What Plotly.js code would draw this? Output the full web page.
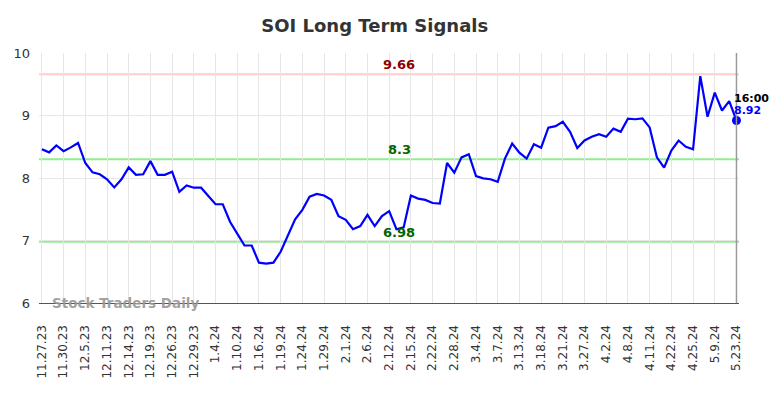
<!DOCTYPE html>
<html>
<head>
<meta charset="utf-8">
<script src="https://cdn.plot.ly/plotly-3.0.1.min.js"></script>
<style>html,body{margin:0;padding:0;background:#fff}#chart{width:784px;height:398px}</style>
</head>
<body>
<div id="chart"></div>
<script>
const dates = ["11.27.23","11.28.23","11.29.23","11.30.23","12.1.23","12.4.23","12.5.23","12.6.23","12.8.23","12.11.23",
"12.12.23","12.13.23","12.14.23","12.15.23","12.18.23","12.19.23","12.20.23","12.22.23","12.26.23","12.27.23",
"12.28.23","12.29.23","1.2.24","1.3.24","1.4.24","1.8.24","1.9.24","1.10.24","1.11.24","1.12.24",
"1.16.24","1.17.24","1.18.24","1.19.24","1.22.24","1.23.24","1.24.24","1.25.24","1.26.24","1.29.24",
"1.30.24","1.31.24","2.1.24","2.2.24","2.5.24","2.6.24","2.7.24","2.9.24","2.12.24","2.13.24",
"2.14.24","2.15.24","2.20.24","2.21.24","2.22.24","2.26.24","2.27.24","2.28.24","2.29.24","3.1.24",
"3.4.24","3.5.24","3.6.24","3.7.24","3.11.24","3.12.24","3.13.24","3.14.24","3.15.24","3.18.24",
"3.19.24","3.20.24","3.21.24","3.22.24","3.26.24","3.27.24","3.28.24","4.1.24","4.2.24","4.3.24",
"4.5.24","4.8.24","4.9.24","4.10.24","4.11.24","4.16.24","4.19.24","4.22.24","4.23.24","4.24.24",
"4.25.24","5.1.24","5.6.24","5.9.24","5.14.24","5.20.24","5.23.24"];
const values = [8.46,8.41,8.52,8.43,8.49,8.56,8.24,8.09,8.06,7.98,
7.85,7.98,8.17,8.05,8.06,8.27,8.05,8.05,8.10,7.78,
7.88,7.845,7.845,7.72,7.58,7.58,7.30,7.11,6.92,6.92,
6.645,6.63,6.645,6.82,7.09,7.34,7.49,7.70,7.744,7.72,
7.65,7.39,7.33,7.18,7.23,7.41,7.23,7.39,7.47,7.18,
7.21,7.72,7.67,7.65,7.60,7.59,8.24,8.085,8.33,8.38,
8.03,7.995,7.98,7.94,8.31,8.55,8.405,8.31,8.54,8.485,
8.805,8.83,8.90,8.74,8.48,8.60,8.66,8.70,8.66,8.79,
8.74,8.95,8.94,8.955,8.81,8.33,8.165,8.44,8.60,8.50,
8.46,9.63,8.98,9.365,9.08,9.23,8.92];
const tickLabels = dates.filter((d,i)=>i%3===0);
const resistance = 9.66;
const support1 = 8.3;
const support2 = 6.98;
const lastTime = "16:00";
const lastValue = 8.92;

const lastDate = dates[dates.length-1];
const F = "DejaVu Sans, sans-serif";

const traces = [
  {x: dates, y: values, type: "scatter", mode: "lines",
   line: {color: "#0000ff", width: 2.2}, hoverinfo: "skip"},
  {x: [lastDate], y: [lastValue], type: "scatter", mode: "markers", cliponaxis: false,
   marker: {color: "#0000ff", size: 9}, hoverinfo: "skip"}
];

const hline = (y, color) => ({type: "line", xref: "paper", x0: 0, x1: 1, yref: "y", y0: y, y1: y,
  line: {color: color, width: 2}, layer: "below"});

const layout = {
  width: 784, height: 398,
  margin: {l: 39, r: 45, t: 53, b: 95},
  paper_bgcolor: "#fff", plot_bgcolor: "#fff",
  showlegend: false,
  font: {family: F, color: "#333", size: 12},
  title: {text: "<b>SOI Long Term Signals</b>", font: {family: F, size: 18, color: "#333"},
          x: 0.478, xanchor: "center", y: 0.935, yanchor: "middle"},
  xaxis: {type: "category", range: [-0.4, 96.35], tickmode: "array", tickvals: tickLabels, ticktext: tickLabels,
          tickangle: -90, showgrid: true, gridcolor: "#e6e6e6", gridwidth: 1,
          showline: true, linecolor: "#555", linewidth: 1.3, ticks: "", zeroline: false,
          ticklabelstandoff: 16,
          tickfont: {family: F, size: 12, color: "#333"}},
  yaxis: {range: [6, 10], tickvals: [6,7,8,9,10], showgrid: true, gridcolor: "#e6e6e6", gridwidth: 1,
          zeroline: false, showline: false, ticks: "", ticklen: 0, ticklabelstandoff: 8,
          tickfont: {family: F, size: 13, color: "#333"}},
  shapes: [
    hline(resistance, "#ffcccc"),
    hline(support1, "#90ee90"),
    hline(support2, "#90ee90"),
    {type: "line", xref: "x", x0: lastDate, x1: lastDate, yref: "paper", y0: 0, y1: 1,
     line: {color: "#999", width: 1.5}}
  ],
  annotations: [
    {x: 49.4, xref: "x", y: resistance, yref: "y", text: "<b>" + resistance + "</b>", showarrow: false,
     yanchor: "bottom", yshift: 0, font: {family: F, size: 13, color: "#8b0000"}},
    {x: 49.4, xref: "x", y: support1, yref: "y", text: "<b>" + support1 + "</b>", showarrow: false,
     yanchor: "bottom", yshift: 0, font: {family: F, size: 13, color: "#006400"}},
    {x: 49.4, xref: "x", y: support2, yref: "y", text: "<b>" + support2 + "</b>", showarrow: false,
     yanchor: "bottom", yshift: 0, font: {family: F, size: 13, color: "#006400"}},
    {x: lastDate, xref: "x", y: lastValue, yref: "y", text: "<b>" + lastTime + "</b>", showarrow: false,
     xanchor: "left", yanchor: "middle", xshift: -4, yshift: 22, font: {family: F, size: 11, color: "#000"}},
    {x: lastDate, xref: "x", y: lastValue, yref: "y", text: "<b>" + lastValue + "</b>", showarrow: false,
     xanchor: "left", yanchor: "middle", xshift: -4, yshift: 10, font: {family: F, size: 11, color: "#0000ff"}},
    {x: 0.015, xref: "paper", y: 0, yref: "paper", text: "<b>Stock Traders Daily</b>", showarrow: false,
     xanchor: "left", yanchor: "middle", font: {family: F, size: 13.5, color: "#999"}, opacity: 0.9}
  ]
};

Plotly.newPlot("chart", traces, layout, {staticPlot: true, displayModeBar: false});
</script>
</body>
</html>
